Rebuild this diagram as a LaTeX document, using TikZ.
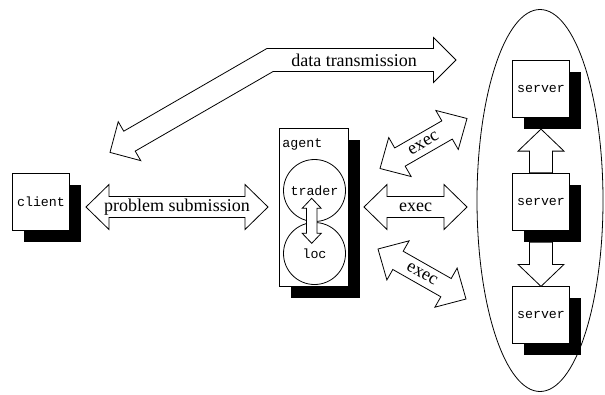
\documentclass[tikz,border=0pt]{standalone}
\usepackage{fontspec}
\setmainfont{Liberation Serif}
\newfontfamily\mono{Liberation Mono}
\usetikzlibrary{calc,shadows,shapes.geometric}

% fat double arrow: start, end, head length, head half width, shaft half width
\newcommand{\dblarrow}[5]{%
  \draw[fatline] let \p1=(#1), \p2=(#2), \n1={atan2(\y2-\y1,\x2-\x1)} in
    (\p1) -- ($(\p1)+(\n1:#3)+(\n1+90:#4)$) -- ($(\p1)+(\n1:#3)+(\n1+90:#5)$)
    -- ($(\p2)+(\n1+180:#3)+(\n1+90:#5)$) -- ($(\p2)+(\n1+180:#3)+(\n1+90:#4)$) -- (\p2)
    -- ($(\p2)+(\n1+180:#3)+(\n1-90:#4)$) -- ($(\p2)+(\n1+180:#3)+(\n1-90:#5)$)
    -- ($(\p1)+(\n1:#3)+(\n1-90:#5)$) -- ($(\p1)+(\n1:#3)+(\n1-90:#4)$) -- cycle;}
% fat single arrow, head at the end
\newcommand{\sglarrow}[5]{%
  \draw[fatline] let \p1=(#1), \p2=(#2), \n1={atan2(\y2-\y1,\x2-\x1)} in
    ($(\p1)+(\n1+90:#5)$) -- ($(\p2)+(\n1+180:#3)+(\n1+90:#5)$)
    -- ($(\p2)+(\n1+180:#3)+(\n1+90:#4)$) -- (\p2)
    -- ($(\p2)+(\n1+180:#3)+(\n1-90:#4)$) -- ($(\p2)+(\n1+180:#3)+(\n1-90:#5)$)
    -- ($(\p1)+(\n1-90:#5)$) -- cycle;}

\tikzset{
  fatline/.style={draw, fill=white, line join=miter},
  box/.style={draw, fill=white, inner sep=0pt, minimum size=57pt,
    font=\mono\fontsize{13.3}{15}\selectfont,
    drop shadow={fill=black, opacity=1, shadow xshift=11.5pt, shadow yshift=-11.5pt}},
  ring/.style={draw, circle, inner sep=0pt, minimum size=62pt, font=\mono\fontsize{13.3}{15}\selectfont},
  lbl/.style={inner sep=0pt, font=\fontsize{18}{21}\selectfont}
}

\begin{document}
\begin{tikzpicture}[x=1pt,y=-1pt,line width=0.8pt]
  \useasboundingbox (0,0) rectangle (605,394);

  %server pool
  \node[draw, ellipse, inner sep=0pt, minimum width=126pt, minimum height=382pt] (pool) at (540,200.5) {};

  %boxes
  \node[box] (client) at (41,202) {client};
  \node[box, minimum width=69pt, minimum height=158pt] (agent) at (313.5,207) {};
  \node[anchor=west, font=\mono\fontsize{13.3}{15}\selectfont] (agentname) at ($(agent.north west)+(0,17)$) {agent};
  \node[ring] (trader) at (314.5,190.5) {trader};
  \node[ring] (loc) at (314.5,253.5) {loc};
  \node[box] (srv1) at (541,88.7) {server};
  \node[box] (srv2) at (541,201.7) {server};
  \node[box] (srv3) at (541,315.3) {server};

  %arrow ends
  \coordinate (ps-l) at (86,207);
  \coordinate (ps-r) at (268,207);
  \coordinate (ex1-l) at (380,168.5);
  \coordinate (ex1-r) at (467,118.5);
  \coordinate (ex2-l) at (364,207);
  \coordinate (ex2-r) at (467,207);
  \coordinate (ex3-l) at (378,249);
  \coordinate (ex3-r) at (466,299);
  \coordinate (tl-t) at (311.7,198.3);
  \coordinate (tl-b) at (311.7,243.3);
  \coordinate (dt-l) at (110,152.4);
  \coordinate (dt-c) at (270,60);
  \coordinate (dt-r) at (456,60);

  %data transmission (bent)
  \draw[fatline] (dt-l) -- ($(dt-l)+(30:22.5pt)+(120:22.5pt)$) -- ($(dt-l)+(30:22.5pt)+(120:11.5pt)$)
    -- ($(dt-c)+(90:11.5pt)+(180:3.1pt)$) -- ($(dt-r)+(180:22.5pt)+(90:11.5pt)$)
    -- ($(dt-r)+(180:22.5pt)+(90:22.5pt)$) -- (dt-r)
    -- ($(dt-r)+(180:22.5pt)+(270:22.5pt)$) -- ($(dt-r)+(180:22.5pt)+(270:11.5pt)$)
    -- ($(dt-c)+(270:11.5pt)+(0:3.1pt)$) -- ($(dt-l)+(30:22.5pt)+(300:11.5pt)$)
    -- ($(dt-l)+(30:22.5pt)+(300:22.5pt)$) -- cycle;
  \node[lbl] (dtlbl) at (354,60) {data transmission};

  \dblarrow{ps-l}{ps-r}{23pt}{22.5pt}{10.5pt}
  \node[lbl] (pslbl) at ($(ps-l)!.5!(ps-r)$) {problem submission};

  \dblarrow{ex1-l}{ex1-r}{23pt}{22.5pt}{10.5pt}
  \dblarrow{ex2-l}{ex2-r}{23pt}{22.5pt}{10.5pt}
  \dblarrow{ex3-l}{ex3-r}{23pt}{22.5pt}{10.5pt}
  \node[lbl, rotate=30] (ex1lbl) at ($(ex1-l)!.5!(ex1-r)$) {exec};
  \node[lbl] (ex2lbl) at ($(ex2-l)!.5!(ex2-r)$) {exec};
  \node[lbl, rotate=-30] (ex3lbl) at ($(ex3-l)!.5!(ex3-r)$) {exec};

  \dblarrow{tl-t}{tl-b}{10pt}{9.5pt}{5.3pt}

  \sglarrow{srv2.north}{$(srv1.south)+(0,11.5)$}{22pt}{23pt}{11.5pt}
  \sglarrow{$(srv2.south)+(0,11.5)$}{srv3.north}{22pt}{23pt}{11.5pt}
\end{tikzpicture}
\end{document}
